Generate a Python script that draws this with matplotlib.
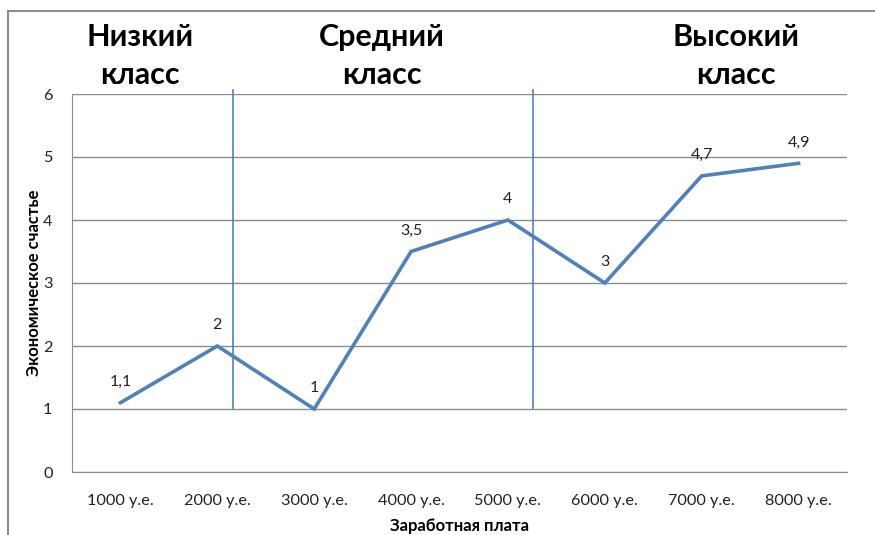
import matplotlib.pyplot as plt
from matplotlib.patches import Rectangle

# данные
categories = ['1000 у.е.', '2000 у.е.', '3000 у.е.', '4000 у.е.',
              '5000 у.е.', '6000 у.е.', '7000 у.е.', '8000 у.е.']
happiness = [1.1, 2, 1, 3.5, 4, 3, 4.7, 4.9]
value_labels = ['1,1', '2', '1', '3,5', '4', '3', '4,7', '4,9']
class_names = ['Низкий\nкласс', 'Средний\nкласс', 'Высокий\nкласс']
class_label_x = [0.2, 2.7, 6.35]
class_bounds = [1.16, 4.26]

plt.rcParams['font.family'] = ['Lato', 'DejaVu Sans']

fig = plt.figure(figsize=(8.75, 5.35), dpi=100)
ax = fig.add_axes([72 / 875, 63 / 535, 775 / 875, 378 / 535])

x = list(range(len(categories)))
ax.plot(x, happiness, color='#4F81BD', lw=2.6, solid_joinstyle='miter')
for xi, yi, lab in zip(x, happiness, value_labels):
    ax.annotate(lab, (xi, yi), xytext=(0, 10), textcoords='offset points',
                ha='center', va='bottom', fontsize=11.5, color='#222222')

# границы классов
for b in class_bounds:
    ax.plot([b, b], [1.02, 6.06], color='#4F81BD', lw=1.2, clip_on=False)

for cx, name in zip(class_label_x, class_names):
    ax.text(cx, 6.08, name, ha='center', va='bottom', fontsize=22,
            fontweight='bold', linespacing=1.42, transform=ax.transData)

ax.set_xlim(-0.5, len(categories) - 0.5)
ax.set_ylim(0, 6)
ax.set_yticks(range(7))
ax.set_xticks(x)
ax.set_xticklabels(categories)
ax.tick_params(axis='both', length=0, labelsize=11.7, colors='#222222')
ax.tick_params(axis='x', pad=16)
ax.tick_params(axis='y', pad=14)
ax.grid(axis='y', color='#8c8c8c', lw=1)
ax.set_axisbelow(True)
for s in ['top', 'right']:
    ax.spines[s].set_visible(False)
ax.spines['left'].set_color('#8c8c8c')
ax.spines['bottom'].set_color('#8c8c8c')

ax.set_xlabel('Заработная плата', fontsize=12, fontweight='bold', labelpad=7)
ax.set_ylabel('Экономическое счастье', fontsize=12, fontweight='bold', labelpad=1)

# рамка диаграммы
fig.patches.append(Rectangle((8 / 875, -0.1), 1.0, (535 - 11) / 535 + 0.1,
                             transform=fig.transFigure, fill=False,
                             edgecolor='#8c8c8c', lw=1.5))

fig.savefig('out.png', dpi=100)
